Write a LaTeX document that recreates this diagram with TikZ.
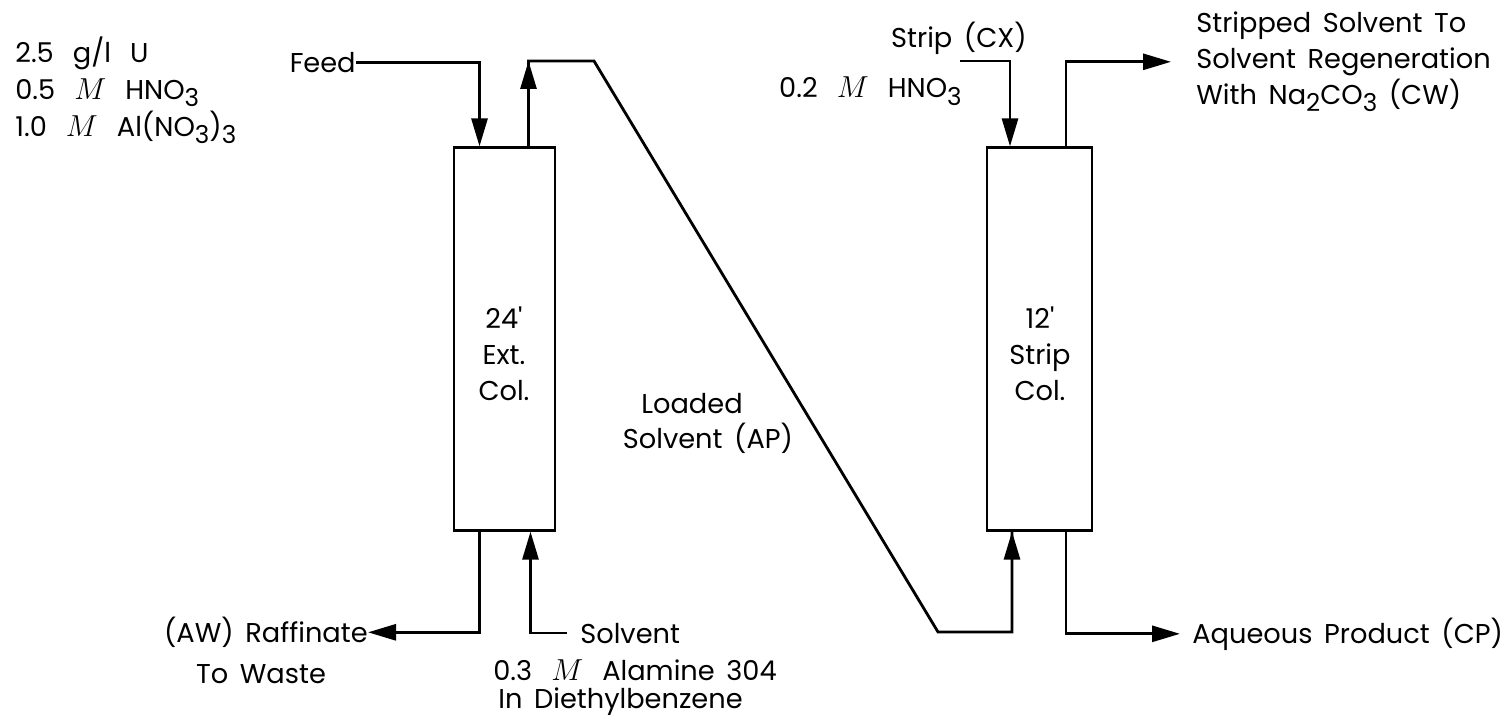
\documentclass[tikz,border=0pt]{standalone}
\usepackage{fontspec}
\setmainfont{Poppins}[WordSpace=1.6]
\usetikzlibrary{arrows.meta,positioning}

\newcommand{\dn}[1]{\raisebox{-0.5ex}{\fontsize{14}{14}\selectfont #1}}
\newcommand{\molar}{\hspace{0.7em}{\fontsize{18}{18}\selectfont$M$}\hspace{0.7em}}
\newcommand{\wsp}{\hspace{0.7em}}

\begin{document}
\begin{tikzpicture}[x=0.02cm, y=-0.02cm,
  colbox/.style={draw, line width=1.3pt, minimum height=7.66cm, inner sep=0pt},
  stream/.style={line width=1.6pt},
  streamtip/.style={-{Triangle[length=0.56cm, width=0.32cm]}},
  txt/.style={font=\fontsize{15.5}{20.5}\selectfont, inner sep=0pt}
]
\useasboundingbox (0,0) rectangle (1500,722);

% columns
\node[colbox, minimum width=2.02cm] (ext) at (504.5,339) {};
\node[colbox, minimum width=2.1cm] (strip) at (1039.5,339) {};
\node[txt, align=center] (extname) at (504,354) {24\textquotesingle\\Ext.\\Col.};
\node[txt, align=center] (stripname) at (1040,354) {12\textquotesingle\\Strip\\Col.};

% feed
\node[txt, anchor=base west] (uran) at (15,62.5) {2.5\wsp g/l\wsp U};
\node[txt, anchor=base west] (nitric) at (15,99.5) {0.5\molar HNO\dn{3}};
\node[txt, anchor=base west] (alum) at (15,136.5) {1.0\molar Al(NO\dn{3})\dn{3}};
\node[txt, anchor=base east] (feed) at (356,72.5) {Feed};
\draw[stream, streamtip] (feed.east) -| ([xshift=-0.5cm]ext.north);

% loaded solvent
\coordinate (extout) at ([xshift=0.48cm]ext.north);
\coordinate (stripin) at ([xshift=-0.55cm]strip.south);
\coordinate (bendtop) at (594,61);
\coordinate (bendlow) at (938,632);
\draw[stream] (extout) |- (bendtop) -- (bendlow) -| (stripin);
\draw[stream, streamtip] (extout) -- (extout |- bendtop);
\draw[stream, streamtip] (stripin |- bendlow) -- (stripin);
\node[txt, anchor=base] (loaded) at (692,413.5) {Loaded};
\node[txt, anchor=base] (loadedap) at (708,448.5) {Solvent (AP)};

% raffinate and solvent
\node[txt, anchor=base east] (raff) at (368,642.5) {(AW) Raffinate};
\node[txt, anchor=base] (waste) at (261,683.5) {To Waste};
\draw[stream, streamtip] ([xshift=-0.5cm]ext.south) |- (raff.east);
\node[txt, anchor=base west] (solvent) at (580,643) {Solvent};
\node[txt, anchor=base west] (alamine) at (493,680.5) {0.3\molar Alamine 304};
\node[txt, anchor=base west] (debz) at (498,708.5) {In Diethylbenzene};
\draw[stream, streamtip] ([xshift=-0.26cm]solvent.west) -| ([xshift=0.52cm]ext.south);

% strip
\node[txt, anchor=base east] (stripcx) at (1027,47.5) {Strip (CX)};
\node[txt, anchor=base east] (stripacid) at (962,98) {0.2\molar HNO\dn{3}};
\coordinate (stripfeed) at (960,61);
\draw[stream, streamtip] (stripfeed) -| ([xshift=-0.59cm]strip.north);

% products
\node[txt, anchor=base west] (cw1) at (1196,32.5) {Stripped Solvent To};
\node[txt, anchor=base west] (cw2) at (1196,68.5) {Solvent Regeneration};
\node[txt, anchor=base west] (cw3) at (1196,104.5) {With Na\dn{2}CO\dn{3} (CW)};
\draw[stream, streamtip] ([xshift=0.53cm]strip.north) |- ([xshift=-0.5cm]cw2.west);
\node[txt, anchor=base west] (cp) at (1192,643) {Aqueous Product (CP)};
\draw[stream, streamtip] ([xshift=0.53cm]strip.south) |- ([xshift=-0.24cm]cp.west);

\end{tikzpicture}
\end{document}
